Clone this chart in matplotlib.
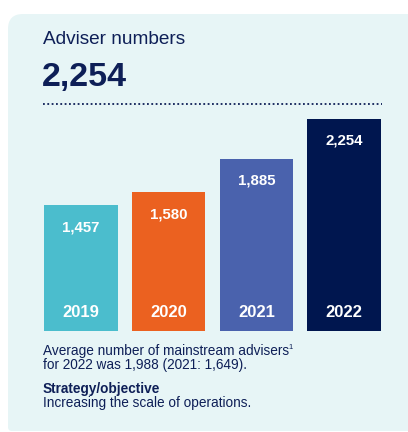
import matplotlib
matplotlib.use("Agg")
import matplotlib.pyplot as plt
from matplotlib.patches import FancyBboxPatch

plt.rcParams['font.family'] = ['Liberation Sans', 'DejaVu Sans']

# adviser headcount by year
years = ['2019', '2020', '2021', '2022']
advisers = [1457, 1580, 1885, 2254]
bar_colors = ['#4bbdcd', '#eb6120', '#4a62ad', '#00164f']
value_labels = ['1,457', '1,580', '1,885', '2,254']

headline = '2,254'
title = 'Adviser numbers'
note_lines = ['Average number of mainstream advisers',
              'for 2022 was 1,988 (2021: 1,649).']
strategy_head = 'Strategy/objective'
strategy_text = 'Increasing the scale of operations.'

W, H = 408, 432
DPI = 100
navy = '#0e1f57'
panel_bg = '#e7f5f6'
y_floor = 305

fig = plt.figure(figsize=(W / DPI, H / DPI), dpi=DPI, facecolor='white')

# full-figure axes in pixel units (y downwards) for the card and text
bg = fig.add_axes([0, 0, 1, 1])
bg.set_xlim(0, W)
bg.set_ylim(H, 0)
bg.axis('off')

# card: big rounding at the top, small at the bottom
bg.add_patch(FancyBboxPatch((8, 14), 440, 260, boxstyle='round,pad=0,rounding_size=15',
                            fc=panel_bg, ec='none'))
bg.add_patch(FancyBboxPatch((8, 100), 440, 331, boxstyle='round,pad=0,rounding_size=4',
                            fc=panel_bg, ec='none'))

bg.text(43, 44, title, fontsize=13.7, color=navy, va='baseline', ha='left')
bg.text(42, 86, headline, fontsize=24.5, fontweight='bold', color=navy,
        va='baseline', ha='left')
bg.plot([43, 382], [104, 104], color=navy, lw=1.3, ls=(0, (1, 1.4)))

bg.text(43, 355, note_lines[0], fontsize=9.8, color=navy, va='baseline')
bg.text(288.5, 349, '1', fontsize=5.5, color=navy, va='baseline')
bg.text(43, 369.3, note_lines[1], fontsize=9.8, color=navy, va='baseline')
bg.text(43, 393.3, strategy_head, fontsize=9.8, fontweight='bold', color=navy,
        va='baseline')
bg.text(43, 407.3, strategy_text, fontsize=9.8, color=navy, va='baseline')

# bar chart area
left, right = 44, 381
bottom, top = 330.7, 118.7
ax = fig.add_axes([left / W, (H - bottom) / H, (right - left) / W, (bottom - top) / H])
ax.patch.set_alpha(0)
x = range(len(years))
bars = ax.bar(x, advisers, width=0.84, color=bar_colors, bottom=0)
ax.set_xlim(-0.42, len(years) - 0.58)
ax.set_ylim(y_floor, max(advisers))
ax.axis('off')

px = 72 / DPI
for i, b in enumerate(bars):
    ax.annotate(value_labels[i], (b.get_x() + b.get_width() / 2, advisers[i]),
                xytext=(0, -26 * px), textcoords='offset points',
                ha='center', va='baseline', color='white',
                fontsize=10.8, fontweight='bold')
    ax.annotate(years[i], (b.get_x() + b.get_width() / 2, y_floor),
                xytext=(0, 13.4 * px), textcoords='offset points',
                ha='center', va='baseline', color='white',
                fontsize=12, fontweight='bold')

fig.savefig('out.png', dpi=DPI, facecolor='white')
